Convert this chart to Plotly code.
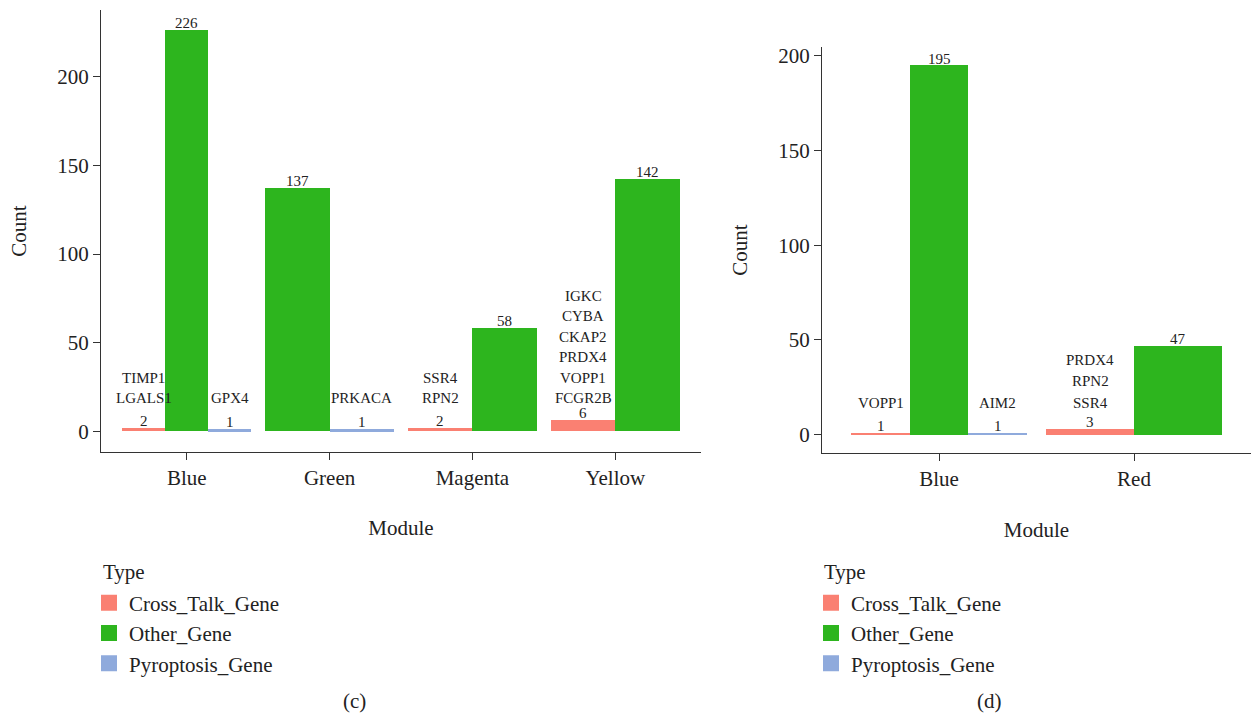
import plotly.graph_objects as go

# ---- panel (c) data ----
modules_c = ["Blue", "Green", "Magenta", "Yellow"]
cross_c = [2, None, 2, 6]
other_c = [226, 137, 58, 142]
pyro_c = [1, 1, None, None]
cross_genes_c = [["TIMP1", "LGALS1"], [], ["SSR4", "RPN2"],
                 ["IGKC", "CYBA", "CKAP2", "PRDX4", "VOPP1", "FCGR2B"]]
pyro_genes_c = [["GPX4"], ["PRKACA"], [], []]

# ---- panel (d) data ----
modules_d = ["Blue", "Red"]
cross_d = [1, 3]
other_d = [195, 47]
pyro_d = [1, None]
cross_genes_d = [["VOPP1"], ["PRDX4", "RPN2", "SSR4"]]
pyro_genes_d = [["AIM2"], []]

type_names = ["Cross_Talk_Gene", "Other_Gene", "Pyroptosis_Gene"]
type_colors = ["#FA8072", "#2DB51E", "#8FAADC"]

FONT = "Liberation Serif"
TXT = "#222222"
AX = "#333333"
BIG = 21


def dodge(series_list):
    """ggplot-style dodge: returns per-series (positions, widths) with total width 0.9."""
    n_cat = len(series_list[0])
    pos = [[None] * n_cat for _ in series_list]
    wid = [[None] * n_cat for _ in series_list]
    for i in range(n_cat):
        present = [s for s in range(len(series_list)) if series_list[s][i] is not None]
        w = 0.9 / len(present)
        for k, s in enumerate(present):
            pos[s][i] = (i + 1) - 0.45 + w * (k + 0.5)
            wid[s][i] = w
    return pos, wid


fig = go.Figure()
annotations = []


def add_panel(series, gene_lists, xa, ya, legend_name, count_shift, gene_base, gene_step):
    pos, wid = dodge(series)
    for s, vals in enumerate(series):
        xs = [p for p, v in zip(pos[s], vals) if v is not None]
        ws = [w for w, v in zip(wid[s], vals) if v is not None]
        ys = [v for v in vals if v is not None]
        fig.add_trace(go.Bar(
            x=xs, y=ys, width=ws, marker=dict(color=type_colors[s], line=dict(width=0)),
            xaxis=xa, yaxis=ya, showlegend=False, hoverinfo="skip"))
        # legend entry
        fig.add_trace(go.Scatter(
            x=[None], y=[None], mode="markers", name=type_names[s],
            marker=dict(symbol="square", size=16, color=type_colors[s]),
            xaxis=xa, yaxis=ya, legend=legend_name))
        for x, v in zip(xs, ys):
            annotations.append(dict(
                x=x, y=v, xref=xa, yref=ya, text=str(v), showarrow=False,
                yanchor="middle", yshift=count_shift,
                font=dict(family=FONT, size=15, color=TXT)))
    # gene-name stacks above the small bars
    for s, genes in gene_lists:
        for i, names in enumerate(genes):
            if not names:
                continue
            for k, name in enumerate(reversed(names)):
                annotations.append(dict(
                    x=pos[s][i], y=0, xref=xa, yref=ya, text=name, showarrow=False,
                    yanchor="middle", yshift=gene_base + k * gene_step,
                    font=dict(family=FONT, size=15, color=TXT)))


add_panel([cross_c, other_c, pyro_c], [(0, cross_genes_c), (2, pyro_genes_c)],
          "x", "y", "legend", 7.5, 33.5, 20.5)
add_panel([cross_d, other_d, pyro_d], [(0, cross_genes_d), (2, pyro_genes_d)],
          "x2", "y2", "legend2", 6.5, 31.7, 21.5)

axis_common = dict(
    showline=True, linecolor=AX, linewidth=1.3, ticks="outside", ticklen=7,
    tickwidth=1.3, tickcolor=AX, showgrid=False, zeroline=False,
    tickfont=dict(family=FONT, size=BIG, color=TXT),
)
title_font = dict(family=FONT, size=BIG, color=TXT)

W, H = 1251, 716
legend_common = dict(xanchor="left", yanchor="top", font=dict(family=FONT, size=BIG, color=TXT),
                     bgcolor="rgba(0,0,0,0)", title=dict(text=""))
fig.update_layout(
    width=W, height=H, margin=dict(l=0, r=0, t=0, b=0),
    paper_bgcolor="white", plot_bgcolor="white",
    barmode="overlay", bargap=0,
    xaxis=dict(domain=[101 / W, 701 / W], range=[0.4, 4.6],
               tickvals=list(range(1, len(modules_c) + 1)), ticktext=modules_c,
               title=dict(text="Module", standoff=31, font=title_font),
               anchor="y", **axis_common),
    yaxis=dict(domain=[1 - 450.5 / H, 1 - 7.5 / H], range=[-11.3, 237.3],
               tickvals=[0, 50, 100, 150, 200],
               title=dict(text="Count", standoff=24, font=title_font),
               anchor="x", **axis_common),
    xaxis2=dict(domain=[822 / W, 1.0], range=[0.4, 2.6],
                tickvals=list(range(1, len(modules_d) + 1)), ticktext=modules_d,
                title=dict(text="Module", standoff=31, font=title_font),
                anchor="y2", **axis_common),
    yaxis2=dict(domain=[1 - 452 / H, 1 - 44 / H], range=[-9.75, 204.75],
                tickvals=[0, 50, 100, 150, 200],
                title=dict(text="Count", standoff=24, font=title_font),
                anchor="x2", **axis_common),
    legend=dict(x=89 / W, y=1 - 582 / H, **legend_common),
    legend2=dict(x=811 / W, y=1 - 582 / H, **legend_common),
)

# legend headings
for lx in (101, 822):
    annotations.append(dict(x=lx / W, y=1 - 571 / H, xref="paper", yref="paper", text="Type",
                            showarrow=False, xanchor="left", yanchor="middle",
                            font=dict(family=FONT, size=BIG, color=TXT)))

# panel captions
for cx, label in ((355, "(c)"), (989, "(d)")):
    annotations.append(dict(x=cx / W, y=1 - 701 / H, xref="paper", yref="paper", text=label,
                            showarrow=False, xanchor="center", yanchor="middle",
                            font=dict(family=FONT, size=BIG, color=TXT)))
fig.update_layout(annotations=annotations)

fig.write_html("out.html")
